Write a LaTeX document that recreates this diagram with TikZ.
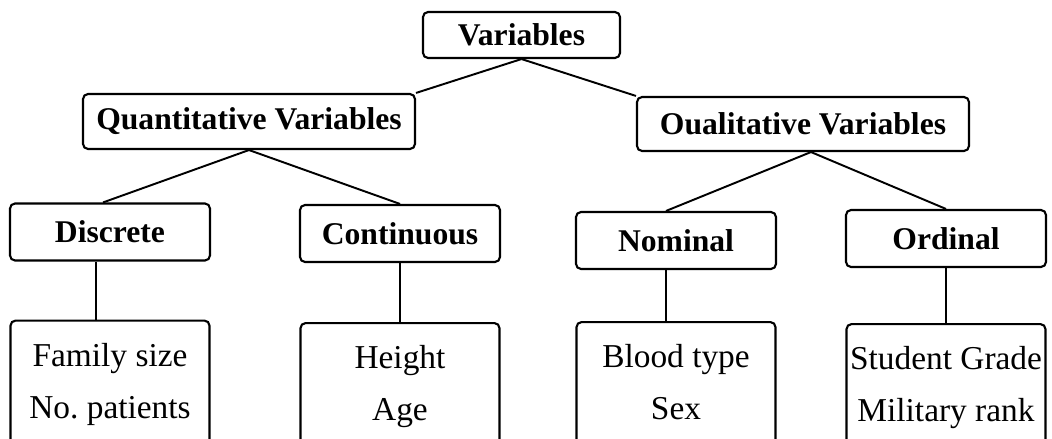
\documentclass[tikz,border=0pt]{standalone}
\usepackage{fontspec}
\setmainfont{Liberation Serif}
\usetikzlibrary{positioning}

\begin{document}
\begin{tikzpicture}[x=0.02cm,y=-0.02cm,
  every node/.style={draw=black,line width=1.2pt,rounded corners=0.1cm,inner sep=2pt},
  head/.style={font=\fontsize{18}{22}\selectfont\bfseries,minimum width=4cm,minimum height=1.14cm},
  leaf/.style={font=\fontsize{19}{29.5}\selectfont,align=center,minimum width=3.98cm,inner xsep=1pt,inner ysep=0.45cm,text depth=1.5cm}]
  \useasboundingbox (0,0) rectangle (1052,439);
  \node[head,minimum width=3.94cm,minimum height=0.92cm](var) at (521.5,35) {Variables};
  \node[head,minimum width=6.64cm,minimum height=1.1cm](quant) at (249,121.5) {Quantitative Variables};
  \node[head,minimum width=6.64cm,minimum height=1.08cm](qual) at (803,124) {Oualitative Variables};
  \node[head](disc) at (110,232) {Discrete};
  \node[head](cont) at (400,233.5) {Continuous};
  \node[head](nom) at (676,240.5) {Nominal};
  \node[head](ord) at (946,238.5) {Ordinal};
  \node[leaf](fam) [below=1.16cm of disc] {Family size\\No.\ patients};
  \node[leaf](height) [below=1.18cm of cont] {Height\\Age};
  \node[leaf](blood) [below=1.02cm of nom] {Blood type\\Sex};
  \node[leaf](grade) [below=1.1cm of ord] {Student Grade\\Military rank};
  \draw[line width=1.1pt] (var.south) -- (quant.north east);
  \draw[line width=1.1pt] (var.south) -- (qual.north west);
  \draw[line width=1.1pt] (quant.south) -- ([xshift=-0.14cm]disc.north);
  \draw[line width=1.1pt] (quant.south) -- (cont.north);
  \draw[line width=1.1pt] ([xshift=0.16cm]qual.south) -- ([xshift=-0.2cm]nom.north);
  \draw[line width=1.1pt] ([xshift=0.16cm]qual.south) -- (ord.north);
  \draw[line width=1.1pt] ([xshift=-0.28cm]disc.south) -- ([xshift=-0.28cm]fam.north);
  \draw[line width=1.1pt] (cont.south) -- (height.north);
  \draw[line width=1.1pt] ([xshift=-0.2cm]nom.south) -- ([xshift=-0.2cm]blood.north);
  \draw[line width=1.1pt] (ord.south) -- (grade.north);
\end{tikzpicture}
\end{document}
